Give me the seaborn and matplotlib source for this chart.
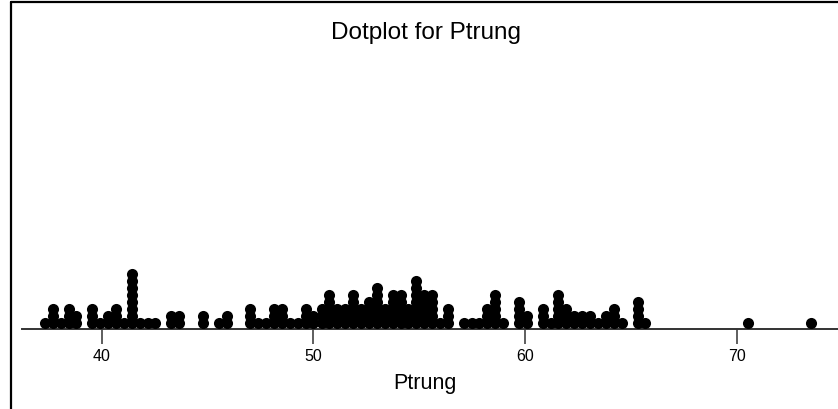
import matplotlib
matplotlib.use("Agg")
import matplotlib.pyplot as plt
from matplotlib.lines import Line2D
import seaborn as sns
import pandas as pd

# Dot column centers (Ptrung) and number of stacked dots in each column
bin_centers = [37.32, 37.69, 38.07, 38.44, 38.81, 39.56, 39.93, 40.30, 40.68, 41.05,
               41.42, 41.80, 42.17, 42.54, 43.29, 43.66, 44.78, 45.53, 45.90, 47.02,
               47.39, 47.76, 48.14, 48.51, 48.88, 49.26, 49.63, 50.00, 50.38, 50.75,
               51.12, 51.49, 51.87, 52.24, 52.61, 52.99, 53.36, 53.73, 54.11, 54.48,
               54.85, 55.22, 55.60, 55.97, 56.34, 57.09, 57.46, 57.83, 58.21, 58.58,
               58.95, 59.70, 60.07, 60.82, 61.19, 61.56, 61.94, 62.31, 62.68, 63.06,
               63.43, 63.80, 64.18, 64.55, 65.30, 65.67, 70.52, 73.50]
counts = [1, 3, 1, 3, 2, 3, 1, 2, 3, 1,
          8, 1, 1, 1, 2, 2, 2, 1, 2, 3,
          1, 1, 3, 3, 1, 1, 3, 2, 3, 5,
          3, 3, 5, 3, 4, 6, 3, 5, 5, 3,
          7, 5, 5, 1, 3, 1, 1, 1, 3, 5,
          1, 4, 2, 3, 1, 5, 3, 2, 2, 2,
          1, 2, 3, 1, 4, 1, 1, 1]
tick_values = [40, 50, 60, 70]
tick_labels = ["40", "50", "60", "70"]
title_text = "Dotplot for Ptrung"
xlabel_text = "Ptrung"

# expand into one row per dot with its stack level
rows = []
for c, n in zip(bin_centers, counts):
    for j in range(n):
        rows.append({"Ptrung": c, "level": j})
df = pd.DataFrame(rows)

sns.set_style("white")
plt.rcParams["font.family"] = ["Liberation Sans", "DejaVu Sans"]

W, H = 838, 409
fig = plt.figure(figsize=(W / 100, H / 100), dpi=100)
fig.patch.set_facecolor("white")

ax_left, ax_right = 22, 838
ax_top, ax_bottom = 15, 329
ax = fig.add_axes([ax_left / W, (H - ax_bottom) / H,
                   (ax_right - ax_left) / W, (ax_bottom - ax_top) / H])

sns.scatterplot(data=df, x="Ptrung", y="level", color="black", s=64,
                linewidth=0, edgecolor="black", ax=ax, legend=False, zorder=3)

row_px = 7.0
base_px = 6.0
h_px = ax_bottom - ax_top
ax.set_ylim(-base_px / row_px, (h_px - base_px) / row_px)
ax.set_xlim(36.24, 74.76)

for s in ["left", "top", "right"]:
    ax.spines[s].set_visible(False)
ax.spines["bottom"].set_color("#333333")
ax.spines["bottom"].set_linewidth(1.4)
ax.set_yticks([])
ax.set_ylabel("")
ax.set_xlabel("")
ax.set_xticks(tick_values)
ax.set_xticklabels(tick_labels)
ax.tick_params(axis="x", direction="out", length=11, width=1.1, color="#333333",
               pad=3.5, labelsize=11.5, labelcolor="black", bottom=True)
ax.patch.set_alpha(0)

fig.text(426 / W, 1 - 33 / H, title_text, ha="center", va="center", fontsize=17.5, color="black")
fig.text(425 / W, 1 - 384 / H, xlabel_text, ha="center", va="center", fontsize=15.5, color="black")

# window border (left and top)
fig.add_artist(Line2D([10.5 / W, 10.5 / W], [0, 1 - 1.5 / H], transform=fig.transFigure,
                      color="black", linewidth=1.6))
fig.add_artist(Line2D([10.5 / W, 1], [1 - 1.5 / H, 1 - 1.5 / H], transform=fig.transFigure,
                      color="black", linewidth=1.6))

fig.savefig("out.png", dpi=100, facecolor="white")
